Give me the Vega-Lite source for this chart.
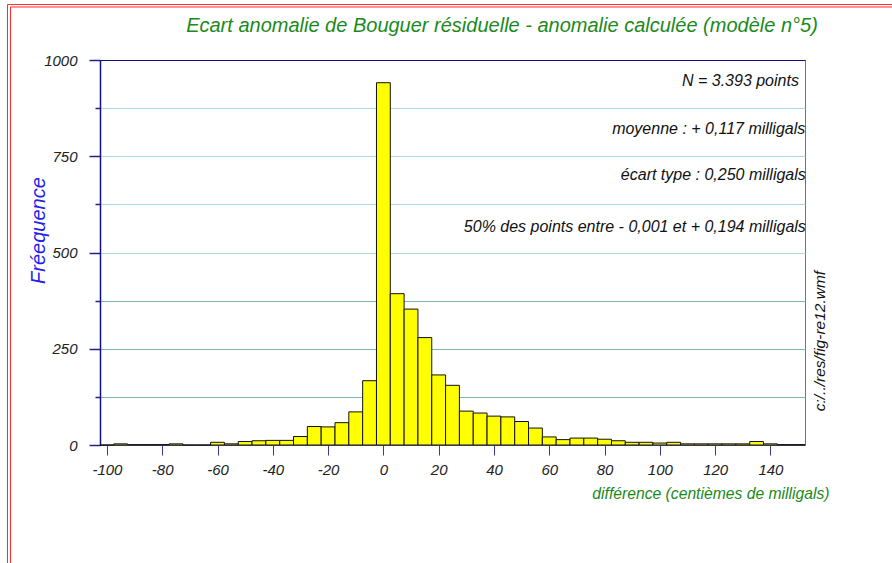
{
  "$schema": "https://vega.github.io/schema/vega-lite/v6.json",
  "width": 705,
  "height": 385,
  "autosize": {"type": "none"},
  "padding": {"left": 100, "top": 60, "right": 87, "bottom": 118},
  "background": "white",
  "title": {
    "text": "Ecart anomalie de Bouguer résiduelle - anomalie calculée (modèle n°5)",
    "font": "Liberation Sans",
    "fontSize": 20,
    "fontStyle": "italic",
    "fontWeight": "normal",
    "color": "#1b8a1b",
    "anchor": "middle",
    "dx": 49.5,
    "baseline": "middle",
    "offset": -42
  },
  "config": {
    "font": "Liberation Sans",
    "view": {"stroke": "#6a6ab8", "strokeWidth": 1}
  },
  "layer": [
    {
      "data": {"values": [{}]},
      "mark": {"type": "rect", "filled": false, "color": "#ff2a2a", "strokeWidth": 1, "clip": false},
      "encoding": {
        "x": {"datum": -135.96, "type": "quantitative"},
        "x2": {"datum": 400},
        "y": {"datum": 1144, "type": "quantitative"},
        "y2": {"datum": -1000}
      }
    },
    {
      "data": {"values": [{}]},
      "mark": {"type": "rect", "filled": false, "color": "#ff2a2a", "strokeWidth": 1, "clip": false},
      "encoding": {
        "x": {"datum": -134.87, "type": "quantitative"},
        "x2": {"datum": 400},
        "y": {"datum": 1137.7, "type": "quantitative"},
        "y2": {"datum": -1000}
      }
    },
    {
      "data": {
        "values": [
          {"lo": -102.5, "hi": -97.5, "n": 0},
          {"lo": -97.5, "hi": -92.5, "n": 3},
          {"lo": -92.5, "hi": -87.5, "n": 1},
          {"lo": -87.5, "hi": -82.5, "n": 1},
          {"lo": -82.5, "hi": -77.5, "n": 1},
          {"lo": -77.5, "hi": -72.5, "n": 3},
          {"lo": -72.5, "hi": -67.5, "n": 0},
          {"lo": -67.5, "hi": -62.5, "n": 0},
          {"lo": -62.5, "hi": -57.5, "n": 7},
          {"lo": -57.5, "hi": -52.5, "n": 3},
          {"lo": -52.5, "hi": -47.5, "n": 9},
          {"lo": -47.5, "hi": -42.5, "n": 11},
          {"lo": -42.5, "hi": -37.5, "n": 12},
          {"lo": -37.5, "hi": -32.5, "n": 12},
          {"lo": -32.5, "hi": -27.5, "n": 22},
          {"lo": -27.5, "hi": -22.5, "n": 48},
          {"lo": -22.5, "hi": -17.5, "n": 47},
          {"lo": -17.5, "hi": -12.5, "n": 58},
          {"lo": -12.5, "hi": -7.5, "n": 86},
          {"lo": -7.5, "hi": -2.5, "n": 167},
          {"lo": -2.5, "hi": 2.5, "n": 941},
          {"lo": 2.5, "hi": 7.5, "n": 393},
          {"lo": 7.5, "hi": 12.5, "n": 353},
          {"lo": 12.5, "hi": 17.5, "n": 279},
          {"lo": 17.5, "hi": 22.5, "n": 182},
          {"lo": 22.5, "hi": 27.5, "n": 155},
          {"lo": 27.5, "hi": 32.5, "n": 88},
          {"lo": 32.5, "hi": 37.5, "n": 83},
          {"lo": 37.5, "hi": 42.5, "n": 75},
          {"lo": 42.5, "hi": 47.5, "n": 73},
          {"lo": 47.5, "hi": 52.5, "n": 61},
          {"lo": 52.5, "hi": 57.5, "n": 44},
          {"lo": 57.5, "hi": 62.5, "n": 21},
          {"lo": 62.5, "hi": 67.5, "n": 14},
          {"lo": 67.5, "hi": 72.5, "n": 18},
          {"lo": 72.5, "hi": 77.5, "n": 18},
          {"lo": 77.5, "hi": 82.5, "n": 15},
          {"lo": 82.5, "hi": 87.5, "n": 11},
          {"lo": 87.5, "hi": 92.5, "n": 7},
          {"lo": 92.5, "hi": 97.5, "n": 7},
          {"lo": 97.5, "hi": 102.5, "n": 5},
          {"lo": 102.5, "hi": 107.5, "n": 7},
          {"lo": 107.5, "hi": 112.5, "n": 3},
          {"lo": 112.5, "hi": 117.5, "n": 3},
          {"lo": 117.5, "hi": 122.5, "n": 3},
          {"lo": 122.5, "hi": 127.5, "n": 3},
          {"lo": 127.5, "hi": 132.5, "n": 3},
          {"lo": 132.5, "hi": 137.5, "n": 9},
          {"lo": 137.5, "hi": 142.5, "n": 3},
          {"lo": 142.5, "hi": 147.5, "n": 1},
          {"lo": 147.5, "hi": 152.5, "n": 1}
        ]
      },
      "mark": {"type": "bar", "fill": "#ffff00", "stroke": "#111111", "strokeWidth": 1},
      "encoding": {
        "x": {
          "field": "lo",
          "type": "quantitative",
          "scale": {"domain": [-102.5, 152.5], "nice": false, "zero": false, "padding": 0},
          "axis": {
            "title": "différence (centièmes de milligals)",
            "values": [-100, -95, -90, -85, -80, -75, -70, -65, -60, -55, -50, -45, -40, -35, -30, -25, -20, -15, -10, -5, 0, 5, 10, 15, 20, 25, 30, 35, 40, 45, 50, 55, 60, 65, 70, 75, 80, 85, 90, 95, 100, 105, 110, 115, 120, 125, 130, 135, 140, 145, 150],
            "labelExpr": "datum.value % 20 === 0 ? '' + datum.value : ''",
            "grid": false,
            "domainColor": "#5a5aaa",
            "domainWidth": 1,
            "tickColor": "#3a3a9a",
            "tickWidth": 1,
            "tickSize": {"condition": {"test": "datum.value % 20 === 0", "value": 10}, "value": 5},
            "labelFont": "Liberation Sans",
            "labelFontSize": 15,
            "labelFontStyle": "italic",
            "labelColor": "#222222",
            "labelBaseline": "middle",
            "labelPadding": 14,
            "labelOverlap": false,
            "titleFont": "Liberation Sans",
            "titleFontSize": 15.7,
            "titleFontStyle": "italic",
            "titleFontWeight": "normal",
            "titleColor": "#1b8a1b",
            "titleAlign": "right",
            "titleAnchor": "end",
            "titleBaseline": "middle",
            "titleX": 729,
            "titleY": 48
          }
        },
        "x2": {"field": "hi"},
        "y": {
          "field": "n",
          "type": "quantitative",
          "scale": {"domain": [0, 1000], "nice": false, "zero": true, "padding": 0},
          "axis": {
            "title": "Fréequence",
            "values": [0, 125, 250, 375, 500, 625, 750, 875, 1000],
            "labelExpr": "datum.value % 250 === 0 ? '' + datum.value : ''",
            "grid": true,
            "gridColor": {"condition": [{"test": "datum.value >= 1000", "value": "#10107a"}, {"test": "datum.value >= 500", "value": "#acdada"}], "value": "#78b8b8"},
            "gridWidth": 1,
            "domainColor": "#10107a",
            "domainWidth": 1.5,
            "tickColor": "#20208a",
            "tickWidth": 1.5,
            "tickSize": {"condition": {"test": "datum.value % 250 === 0", "value": 11}, "value": 5},
            "labelFont": "Liberation Sans",
            "labelFontSize": 15,
            "labelFontStyle": "italic",
            "labelColor": "#222222",
            "labelPadding": 12,
            "labelOverlap": false,
            "titleFont": "Liberation Sans",
            "titleFontSize": 20,
            "titleFontStyle": "italic",
            "titleFontWeight": "normal",
            "titleColor": "#2222ee",
            "titleAngle": 270,
            "titleAlign": "center",
            "titleBaseline": "middle",
            "titleX": -62,
            "titleY": 170
          }
        },
        "y2": {"datum": 0}
      }
    },
    {
      "data": {"values": [{}]},
      "mark": {"type": "text", "text": "N = 3.393 points", "align": "right", "baseline": "middle", "font": "Liberation Sans", "fontSize": 16, "fontStyle": "italic", "color": "#111111"},
      "encoding": {"x": {"datum": 150.3, "type": "quantitative"}, "y": {"datum": 946, "type": "quantitative"}}
    },
    {
      "data": {"values": [{}]},
      "mark": {"type": "text", "text": "moyenne : + 0,117 milligals", "align": "right", "baseline": "middle", "font": "Liberation Sans", "fontSize": 16, "fontStyle": "italic", "color": "#111111"},
      "encoding": {"x": {"datum": 152.6, "type": "quantitative"}, "y": {"datum": 822, "type": "quantitative"}}
    },
    {
      "data": {"values": [{}]},
      "mark": {"type": "text", "text": "écart type : 0,250 milligals", "align": "right", "baseline": "middle", "font": "Liberation Sans", "fontSize": 16, "fontStyle": "italic", "color": "#111111"},
      "encoding": {"x": {"datum": 152.8, "type": "quantitative"}, "y": {"datum": 701, "type": "quantitative"}}
    },
    {
      "data": {"values": [{}]},
      "mark": {"type": "text", "text": "50% des points entre - 0,001 et + 0,194 milligals", "align": "right", "baseline": "middle", "font": "Liberation Sans", "fontSize": 16, "fontStyle": "italic", "color": "#111111"},
      "encoding": {"x": {"datum": 152.8, "type": "quantitative"}, "y": {"datum": 566, "type": "quantitative"}}
    },
    {
      "data": {"values": [{}]},
      "mark": {"type": "text", "text": "c:/../res/fig-re12.wmf", "angle": 270, "align": "center", "baseline": "middle", "font": "Liberation Sans", "fontSize": 15.5, "fontStyle": "italic", "color": "#111111"},
      "encoding": {"x": {"datum": 157.9, "type": "quantitative"}, "y": {"datum": 270, "type": "quantitative"}}
    }
  ]
}
